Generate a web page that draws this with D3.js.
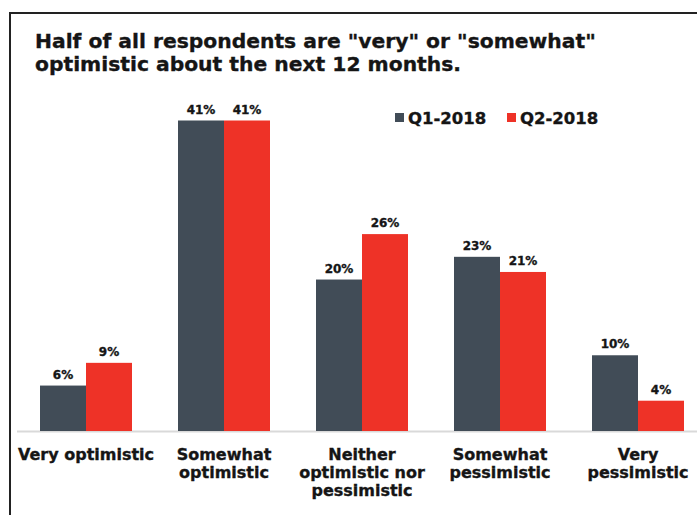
<!DOCTYPE html>
<html>
<head>
<meta charset="utf-8">
<script src="https://cdn.jsdelivr.net/npm/d3@7"></script>
<style>
  html, body { margin: 0; padding: 0; background: #fff; }
  svg { display: block; }
  text { font-family: "DejaVu Sans", Verdana, sans-serif; font-weight: bold; fill: #151515;
         stroke: #151515; stroke-width: 0.35px; }
</style>
</head>
<body>
<svg id="chart" width="697" height="515"></svg>
<script>
// Survey outlook categories and share of respondents (%) per quarter
const categories = [
  ["Very optimistic"],
  ["Somewhat", "optimistic"],
  ["Neither", "optimistic nor", "pessimistic"],
  ["Somewhat", "pessimistic"],
  ["Very", "pessimistic"]
];
const seriesNames = ["Q1-2018", "Q2-2018"];
const q1Values = [6, 41, 20, 23, 10];
const q2Values = [9, 41, 26, 21, 4];
const titleLines = [
  'Half of all respondents are "very" or "somewhat"',
  'optimistic about the next 12 months.'
];
const colors = ["#414c57", "#ee3227"];

const svg = d3.select("#chart");

// frame around the chart
svg.append("line").attr("x1", 10).attr("x2", 697).attr("y1", 13).attr("y2", 13)
  .attr("stroke", "#222").attr("stroke-width", 2);
svg.append("line").attr("x1", 10).attr("x2", 10).attr("y1", 12).attr("y2", 515)
  .attr("stroke", "#222").attr("stroke-width", 2);

// title
svg.append("text")
  .attr("x", 35).attr("y", 48)
  .style("font-size", "20.3px")
  .selectAll("tspan").data(titleLines).join("tspan")
  .attr("x", 35).attr("dy", (d, i) => i === 0 ? 0 : 22.5)
  .text(d => d);

const keys = categories.map((c, i) => "c" + i);
const data = keys.map((k, i) => ({ key: k, label: categories[i], values: [q1Values[i], q2Values[i]] }));

const x0 = d3.scaleBand().domain(keys).range([17, 707]).paddingInner(1 / 3).paddingOuter(1 / 6);
const x1 = d3.scaleBand().domain(seriesNames).range([0, x0.bandwidth()]);
const y = d3.scaleLinear().domain([0, 41]).range([431, 120.5]);

// baseline
svg.append("line").attr("x1", 17).attr("x2", 697).attr("y1", 431.5).attr("y2", 431.5)
  .attr("stroke", "#d9d9d9").attr("stroke-width", 2);

const groups = svg.append("g").selectAll("g").data(data).join("g")
  .attr("transform", d => `translate(${x0(d.key)},0)`);

const bars = groups.selectAll("g.bar")
  .data(d => d.values.map((v, i) => ({ name: seriesNames[i], value: v, i })))
  .join("g").attr("class", "bar");

bars.append("rect")
  .attr("x", d => x1(d.name))
  .attr("y", d => y(d.value))
  .attr("width", x1.bandwidth())
  .attr("height", d => y(0) - y(d.value))
  .attr("fill", d => colors[d.i]);

bars.append("text")
  .attr("x", d => x1(d.name) + x1.bandwidth() / 2)
  .attr("y", d => y(d.value) - 7)
  .attr("text-anchor", "middle")
  .style("font-size", "12px")
  .text(d => d.value + "%");

// category labels
groups.append("text")
  .attr("text-anchor", "middle")
  .style("font-size", "16px")
  .selectAll("tspan").data(d => d.label).join("tspan")
  .attr("x", x0.bandwidth() / 2)
  .attr("y", (d, i) => 460 + i * 18)
  .text(d => d);

// legend
const legend = svg.append("g").selectAll("g").data(seriesNames).join("g")
  .attr("transform", (d, i) => `translate(${[395, 507][i]},113)`);
legend.append("rect").attr("width", 9).attr("height", 9).attr("fill", (d, i) => colors[i]);
legend.append("text").attr("x", 13).attr("y", 10.5)
  .style("font-size", "16.5px")
  .text(d => d);
</script>
</body>
</html>
